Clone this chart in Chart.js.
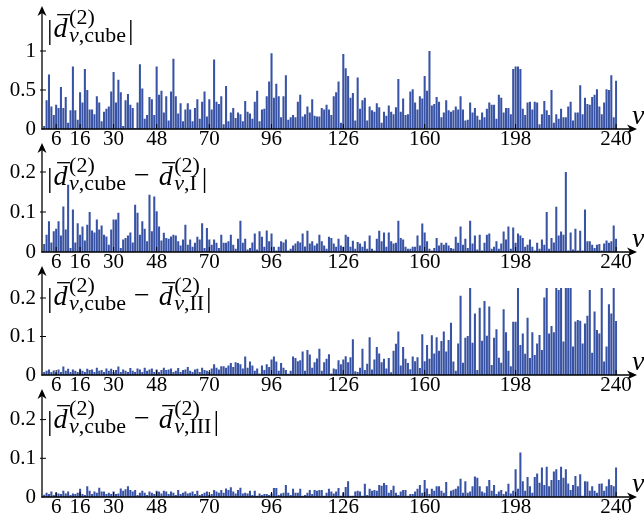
<!DOCTYPE html>
<html><head><meta charset="utf-8">
<script src="https://cdn.jsdelivr.net/npm/chart.js@4.4.1/dist/chart.umd.min.js"></script>
<style>
html,body{margin:0;padding:0;background:#fff;}
#wrap{position:relative;width:644px;height:523px;overflow:hidden;background:#fff;}
canvas{position:absolute;left:0;}
</style></head><body>
<div id="wrap">
<canvas id="c1"></canvas><canvas id="c2"></canvas><canvas id="c3"></canvas><canvas id="c4"></canvas>
</div>
<script>
// ---- data ----
const nu = Array.from({length: 240}, (_, i) => String(i + 1));
const nuTicks = [6, 16, 30, 48, 70, 96, 126, 160, 198, 240];
const yTicksCube = [0, 0.5, 1];
const yTicksDiff = [0, 0.1, 0.2];

const cube = [
0.04,0.37,0.70,0.29,0.18,0.31,0.27,0.54,0.27,0.41,
0.08,0.24,0.80,0.24,0.12,0.47,0.34,0.77,0.50,0.25,
0.25,0.19,0.42,0.34,0.10,0.22,0.26,0.29,0.48,0.73,
0.34,0.63,0.47,0.04,0.37,0.45,0.31,0.27,0.01,0.34,
0.83,0.52,0.13,0.18,0.41,0.38,0.18,0.80,0.44,0.49,
0.21,0.42,0.11,0.48,0.90,0.42,0.20,0.33,0.10,0.25,
0.33,0.25,0.10,0.27,0.38,0.13,0.35,0.48,0.16,0.38,
0.25,0.89,0.35,0.32,0.42,0.06,0.55,0.10,0.21,0.27,
0.14,0.21,0.19,0.10,0.36,0.22,0.20,0.13,0.35,0.49,
0.10,0.25,0.26,0.42,0.61,0.97,0.40,0.58,0.42,0.15,
0.42,0.69,0.12,0.15,0.18,0.15,0.35,0.44,0.16,0.19,
0.29,0.21,0.38,0.17,0.16,0.16,0.27,0.25,0.31,0.25,
0.18,0.42,0.47,0.61,0.08,0.96,0.78,0.68,0.40,0.46,
0.11,0.66,0.26,0.37,0.40,0.11,0.29,0.24,0.22,0.33,
0.28,0.08,0.22,0.17,0.30,0.22,0.19,0.28,0.64,0.22,
0.39,0.18,0.19,0.48,0.51,0.34,0.25,0.42,0.39,0.68,
0.49,1.00,0.30,0.32,0.41,0.35,0.15,0.21,0.37,0.24,
0.22,0.24,0.29,0.25,0.42,0.25,0.11,0.12,0.34,0.21,
0.27,0.17,0.12,0.21,0.15,0.26,0.34,0.31,0.31,0.13,
0.44,0.40,0.21,0.27,0.27,0.19,0.77,0.80,0.80,0.77,
0.26,0.18,0.34,0.35,0.25,0.35,0.34,0.06,0.19,0.36,
0.24,0.18,0.50,0.08,0.19,0.13,0.26,0.15,0.15,0.29,
0.35,0.11,0.21,0.21,0.56,0.19,0.40,0.32,0.31,0.41,
0.44,0.51,0.29,0.19,0.34,0.51,0.50,0.69,0.15,0.62];

const diffI = [
0.020,0.043,0.077,0.024,0.052,0.058,0.077,0.041,0.114,0.056,
0.168,0.010,0.106,0.024,0.072,0.043,0.064,0.029,0.068,0.100,
0.054,0.049,0.081,0.056,0.066,0.043,0.039,0.018,0.056,0.081,
0.081,0.098,0.010,0.031,0.035,0.041,0.049,0.024,0.118,0.098,
0.043,0.077,0.058,0.027,0.143,0.052,0.139,0.102,0.064,0.029,
0.048,0.035,0.033,0.039,0.043,0.041,0.027,0.016,0.031,0.068,
0.018,0.031,0.013,0.023,0.038,0.031,0.072,0.010,0.060,0.031,
0.018,0.031,0.023,0.010,0.043,0.023,0.023,0.027,0.043,0.018,
0.008,0.033,0.078,0.023,0.033,0.006,0.010,0.024,0.046,0.006,
0.052,0.038,0.013,0.054,0.027,0.046,0.013,0.004,0.013,0.027,
0.024,0.031,0.004,0.008,0.016,0.021,0.027,0.024,0.046,0.014,
0.053,0.021,0.027,0.016,0.021,0.043,0.027,0.016,0.008,0.038,
0.035,0.021,0.013,0.033,0.016,0.013,0.043,0.038,0.013,0.028,
0.008,0.025,0.021,0.013,0.027,0.008,0.041,0.008,0.004,0.033,
0.053,0.027,0.049,0.013,0.049,0.027,0.021,0.023,0.078,0.035,
0.031,0.013,0.008,0.008,0.013,0.013,0.041,0.016,0.071,0.049,
0.027,0.008,0.004,0.010,0.035,0.016,0.023,0.018,0.023,0.016,
0.010,0.008,0.038,0.023,0.064,0.018,0.033,0.010,0.078,0.021,
0.041,0.006,0.043,0.004,0.023,0.043,0.046,0.008,0.013,0.027,
0.008,0.021,0.051,0.031,0.064,0.008,0.061,0.023,0.046,0.041,
0.035,0.013,0.018,0.031,0.013,0.004,0.023,0.008,0.031,0.018,
0.100,0.008,0.035,0.024,0.113,0.041,0.051,0.043,0.200,0.004,
0.049,0.006,0.058,0.004,0.053,0.004,0.106,0.027,0.027,0.018,
0.010,0.018,0.020,0.004,0.021,0.029,0.023,0.027,0.066,0.033];

const diffII = [
0.008,0.011,0.014,0.008,0.012,0.007,0.014,0.008,0.022,0.011,
0.016,0.008,0.014,0.011,0.008,0.016,0.011,0.008,0.016,0.013,
0.014,0.008,0.019,0.011,0.013,0.008,0.017,0.011,0.016,0.008,
0.013,0.022,0.008,0.014,0.011,0.008,0.018,0.011,0.008,0.017,
0.014,0.008,0.019,0.011,0.014,0.017,0.008,0.014,0.008,0.013,
0.019,0.013,0.014,0.017,0.008,0.011,0.018,0.008,0.013,0.014,
0.021,0.011,0.008,0.014,0.016,0.008,0.019,0.013,0.011,0.008,
0.017,0.028,0.019,0.014,0.023,0.023,0.019,0.025,0.031,0.021,
0.033,0.031,0.028,0.017,0.048,0.019,0.035,0.025,0.011,0.017,
0.004,0.025,0.013,0.028,0.021,0.040,0.048,0.035,0.011,0.031,
0.019,0.013,0.003,0.011,0.048,0.044,0.036,0.038,0.061,0.011,
0.065,0.053,0.019,0.033,0.043,0.068,0.011,0.033,0.042,0.054,
0.004,0.017,0.015,0.038,0.028,0.040,0.049,0.033,0.046,0.093,
0.010,0.008,0.019,0.068,0.013,0.029,0.098,0.014,0.040,0.073,
0.056,0.033,0.042,0.017,0.044,0.007,0.063,0.081,0.113,0.025,
0.073,0.042,0.031,0.015,0.048,0.036,0.046,0.018,0.106,0.036,
0.078,0.042,0.103,0.056,0.098,0.063,0.088,0.113,0.061,0.091,
0.136,0.035,0.011,0.082,0.206,0.032,0.097,0.101,0.230,0.084,
0.160,0.013,0.175,0.089,0.192,0.102,0.178,0.026,0.097,0.119,
0.045,0.032,0.171,0.111,0.063,0.023,0.138,0.138,0.230,0.078,
0.108,0.055,0.149,0.044,0.111,0.052,0.082,0.104,0.065,0.201,
0.230,0.108,0.127,0.111,0.230,0.221,0.230,0.087,0.230,0.230,
0.230,0.074,0.139,0.143,0.141,0.082,0.134,0.154,0.221,0.058,
0.165,0.117,0.108,0.230,0.035,0.074,0.184,0.160,0.230,0.140];

const diffIII = [
0.006,0.011,0.008,0.014,0.005,0.011,0.009,0.008,0.016,0.009,
0.014,0.005,0.009,0.008,0.011,0.021,0.008,0.005,0.028,0.016,
0.008,0.014,0.011,0.024,0.014,0.014,0.008,0.011,0.008,0.014,
0.008,0.009,0.022,0.016,0.020,0.028,0.018,0.014,0.018,0.005,
0.011,0.016,0.011,0.005,0.014,0.011,0.008,0.016,0.014,0.009,
0.016,0.014,0.008,0.014,0.011,0.005,0.018,0.008,0.011,0.014,
0.009,0.011,0.014,0.008,0.016,0.005,0.008,0.011,0.014,0.005,
0.008,0.018,0.014,0.011,0.018,0.011,0.022,0.018,0.025,0.014,
0.009,0.018,0.024,0.009,0.011,0.009,0.016,0.005,0.016,0.003,
0.009,0.005,0.008,0.008,0.005,0.009,0.023,0.023,0.005,0.009,
0.011,0.031,0.011,0.005,0.021,0.011,0.011,0.021,0.003,0.005,
0.011,0.018,0.008,0.018,0.016,0.018,0.018,0.003,0.011,0.021,
0.014,0.009,0.014,0.023,0.003,0.011,0.026,0.041,0.003,0.003,
0.014,0.016,0.014,0.003,0.034,0.005,0.021,0.016,0.018,0.016,
0.031,0.029,0.036,0.031,0.011,0.018,0.029,0.011,0.005,0.014,
0.018,0.018,0.003,0.008,0.008,0.014,0.021,0.031,0.011,0.044,
0.022,0.008,0.021,0.016,0.028,0.028,0.016,0.011,0.039,0.001,
0.016,0.019,0.021,0.028,0.047,0.011,0.041,0.011,0.014,0.028,
0.053,0.050,0.028,0.014,0.011,0.028,0.044,0.016,0.031,0.008,
0.014,0.018,0.008,0.014,0.034,0.009,0.016,0.072,0.021,0.115,
0.041,0.016,0.052,0.028,0.011,0.052,0.061,0.037,0.076,0.031,
0.078,0.028,0.044,0.066,0.072,0.044,0.078,0.050,0.072,0.035,
0.018,0.031,0.054,0.028,0.059,0.003,0.041,0.040,0.016,0.028,
0.016,0.011,0.034,0.035,0.016,0.028,0.046,0.031,0.028,0.076];

// ---- layout / style ----
const SERIF = '"Liberation Serif", "DejaVu Serif", serif';
const BAR = '#3953a4';
const LEFT = 43, RIGHT = 617.3, XTIP = 637;
const MAIN = 28, SCR = 22;

const panels = [
  {id:'c1', values:cube,    ct:0,   base:129, tip:6,   max:1.1,   ppu:78,  yTicks:yTicksCube, sub2:null,  titleBase:37},
  {id:'c2', values:diffI,   ct:138, base:252, tip:143, max:0.226, ppu:400, yTicks:yTicksDiff, sub2:'I',   titleBase:185},
  {id:'c3', values:diffII,  ct:261, base:375, tip:266, max:0.226, ppu:385, yTicks:yTicksDiff, sub2:'II',  titleBase:305},
  {id:'c4', values:diffIII, ct:384, base:497, tip:389, max:0.226, ppu:387, yTicks:yTicksDiff, sub2:'III', titleBase:428}
];

function term(ctx, x, y, sub) {
  ctx.font = 'italic ' + MAIN + 'px ' + SERIF;
  ctx.fillText('d', x, y);
  const dw = ctx.measureText('d').width;
  ctx.fillRect(x + 3.5, y - MAIN * 0.82, dw - 1, 1.3);
  const sx = x + dw + 1.5;
  ctx.font = SCR + 'px ' + SERIF;
  ctx.fillText('(2)', sx, y - 13);
  const supW = ctx.measureText('(2)').width;
  ctx.font = 'italic ' + SCR + 'px ' + SERIF;
  ctx.fillText('\u03BD', sx, y + 5);
  let w = ctx.measureText('\u03BD').width;
  ctx.font = SCR + 'px ' + SERIF;
  ctx.fillText(',' + sub, sx + w, y + 5);
  w += ctx.measureText(',' + sub).width;
  return sx + Math.max(w, supW);
}

function drawTitle(ctx, p, y) {
  let x = 47;
  ctx.textBaseline = 'alphabetic';
  ctx.textAlign = 'left';
  ctx.font = MAIN + 'px ' + SERIF;
  ctx.fillText('|', x, y + 2);
  x += ctx.measureText('|').width + 1;
  x = term(ctx, x, y, 'cube');
  if (p.sub2) {
    ctx.font = MAIN + 'px ' + SERIF;
    x += 8;
    ctx.fillText('\u2212', x, y - 1);
    x += ctx.measureText('\u2212').width + 9;
    x = term(ctx, x, y, p.sub2);
  }
  ctx.font = MAIN + 'px ' + SERIF;
  ctx.fillText('|', x + 2, y + 2);
}

function arrowHead(ctx, x, y, dir) {
  ctx.beginPath();
  if (dir === 'right') {
    ctx.moveTo(x, y); ctx.lineTo(x - 10, y - 4.5); ctx.lineTo(x - 7, y); ctx.lineTo(x - 10, y + 4.5);
  } else {
    ctx.moveTo(x, y); ctx.lineTo(x - 4.5, y + 10); ctx.lineTo(x, y + 7); ctx.lineTo(x + 4.5, y + 10);
  }
  ctx.closePath(); ctx.fill();
}

function axesPlugin(p) {
  return {
    id: 'axes_' + p.id,
    afterDraw(chart) {
      const ctx = chart.ctx, ca = chart.chartArea;
      const xs = chart.scales.x, ys = chart.scales.y;
      const x0 = ca.left - 1, y0 = ys.getPixelForValue(0), yTip = p.tip - p.ct;
      ctx.save();
      ctx.strokeStyle = '#000'; ctx.fillStyle = '#000'; ctx.lineWidth = 1.3;
      ctx.beginPath(); ctx.moveTo(x0, y0 + 0.6); ctx.lineTo(x0, yTip + 5); ctx.stroke();
      arrowHead(ctx, x0, yTip, 'up');
      ctx.beginPath(); ctx.moveTo(x0 - 0.6, y0); ctx.lineTo(XTIP - 5, y0); ctx.stroke();
      arrowHead(ctx, XTIP, y0, 'right');
      ctx.lineWidth = 1;
      nuTicks.forEach(v => {
        const x = xs.getPixelForValue(nu.indexOf(String(v)));
        ctx.beginPath(); ctx.moveTo(x, y0 - 5); ctx.lineTo(x, y0); ctx.stroke();
      });
      p.yTicks.forEach(v => {
        if (v === 0) return;
        const y = ys.getPixelForValue(v);
        ctx.beginPath(); ctx.moveTo(x0 - 2, y); ctx.lineTo(x0 + 4, y); ctx.stroke();
      });
      ctx.font = 'italic 28px ' + SERIF;
      ctx.textAlign = 'left'; ctx.textBaseline = 'alphabetic';
      ctx.fillText('\u03BD', 632, y0 - 5);
      drawTitle(ctx, p, p.titleBase - p.ct);
      ctx.restore();
    }
  };
}

function makeChart(p) {
  const cv = document.getElementById(p.id);
  const H = p.base + 26 - p.ct;
  cv.width = 644; cv.height = H; cv.style.top = p.ct + 'px';
  cv.style.width = '644px'; cv.style.height = H + 'px';
  const chartTop = p.base - p.max * p.ppu;
  new Chart(cv, {
    type: 'bar',
    data: { labels: nu, datasets: [{ data: p.values, backgroundColor: BAR, borderWidth: 0,
      barPercentage: 0.86, categoryPercentage: 1.0 }] },
    options: {
      responsive: false, animation: false, events: [], devicePixelRatio: 1,
      layout: { padding: { top: chartTop - p.ct, right: 644 - RIGHT, bottom: 0, left: 0 } },
      plugins: { legend: { display: false }, tooltip: { enabled: false }, title: { display: false } },
      scales: {
        x: {
          type: 'category', offset: true,
          grid: { display: false, drawTicks: false, tickLength: 0 }, border: { display: false },
          ticks: { autoSkip: false, maxRotation: 0, minRotation: 0, padding: 0, color: '#000',
                   font: { family: SERIF, size: 21, lineHeight: 1 } },
          afterBuildTicks: s => { s.ticks = s.ticks.filter(t => nuTicks.includes(+nu[t.value])); },
          afterFit: s => { s.height = 26; }
        },
        y: {
          min: 0, max: p.max, bounds: 'data',
          grid: { display: false, drawTicks: false, tickLength: 0 }, border: { display: false },
          ticks: { padding: 7, color: '#000', font: { family: SERIF, size: 21, lineHeight: 1 },
                   callback: v => String(v) },
          afterBuildTicks: s => { s.ticks = p.yTicks.map(v => ({ value: v })); },
          afterFit: s => { s.width = LEFT; }
        }
      }
    },
    plugins: [axesPlugin(p)]
  });
}

panels.forEach(makeChart);
</script>
</body></html>
